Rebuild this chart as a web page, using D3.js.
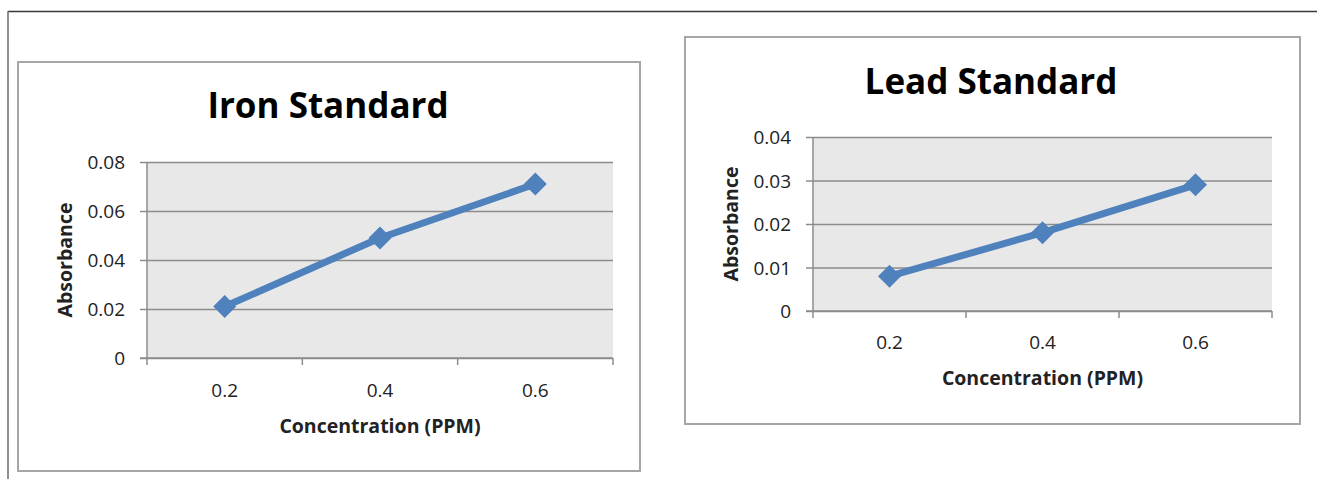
<!DOCTYPE html>
<html><head><meta charset="utf-8">
<script src="https://cdn.jsdelivr.net/npm/d3@7"></script>
<style>
html,body{margin:0;padding:0;background:#fff;}
svg{display:block;}
text{font-family:"Open Sans",Lato,sans-serif;}
</style></head>
<body>
<svg id="c" width="1317" height="479"></svg>
<script>
// Data
const categories = ["0.2", "0.4", "0.6"];
const ironValues = [0.021, 0.049, 0.071];
const leadValues = [0.008, 0.018, 0.029];
const ironTicks = [0, 0.02, 0.04, 0.06, 0.08];
const leadTicks = [0, 0.01, 0.02, 0.03, 0.04];
const charts = [
  {title: "Iron Standard", values: ironValues, ticks: ironTicks, max: 0.08, fmt: d => d === 0 ? "0" : d.toFixed(2),
   box: {x: 18, y: 62, w: 622, h: 409}, plot: {x: 147, y: 162, w: 466, h: 196},
   titleX: 328, titleY: 118, xLabY: 397, xTitleY: 433, yTitleX: 72, yLabX: 125},
  {title: "Lead Standard", values: leadValues, ticks: leadTicks, max: 0.04, fmt: d => d === 0 ? "0" : d.toFixed(2),
   box: {x: 685, y: 37, w: 615, h: 387}, plot: {x: 813, y: 137, w: 459, h: 174},
   titleX: 991, titleY: 94, xLabY: 349, xTitleY: 385, yTitleX: 738, yLabX: 791}
];
const xTitle = "Concentration (PPM)";
const yTitle = "Absorbance";

const svg = d3.select("#c");
// outer frame
svg.append("line").attr("x1", 8).attr("x2", 1317).attr("y1", 11.5).attr("y2", 11.5).attr("stroke", "#3a3a3a").attr("stroke-width", 1.5);
svg.append("line").attr("x1", 8).attr("x2", 8).attr("y1", 11).attr("y2", 479).attr("stroke", "#6a6a6a").attr("stroke-width", 1.5);

charts.forEach(c => {
  const g = svg.append("g");
  g.append("rect").attr("x", c.box.x).attr("y", c.box.y).attr("width", c.box.w).attr("height", c.box.h)
    .attr("fill", "#fff").attr("stroke", "#a6a6a6").attr("stroke-width", 2);
  g.append("text").attr("x", c.titleX).attr("y", c.titleY).attr("text-anchor", "middle")
    .attr("font-size", 35).attr("font-weight", "bold").attr("fill", "#000").text(c.title);

  const x = d3.scaleBand().domain(categories).range([c.plot.x, c.plot.x + c.plot.w]);
  const y = d3.scaleLinear().domain([0, c.max]).range([c.plot.y + c.plot.h, c.plot.y]);

  g.append("rect").attr("x", c.plot.x).attr("y", c.plot.y).attr("width", c.plot.w).attr("height", c.plot.h).attr("fill", "#e8e8e8");

  // gridlines + y axis
  const ya = g.append("g").attr("transform", `translate(${c.plot.x},0)`)
    .call(d3.axisLeft(y).tickValues(c.ticks).tickFormat(c.fmt).tickSize(-c.plot.w).tickPadding(0));
  ya.select(".domain").remove();
  ya.selectAll(".tick line").attr("stroke", "#8c8c8c").attr("stroke-width", 1.5);
  ya.selectAll(".tick").append("line").attr("x1", -7).attr("x2", 0).attr("stroke", "#8c8c8c").attr("stroke-width", 1.5);
  ya.selectAll(".tick text").attr("x", c.yLabX - c.plot.x).attr("font-size", 19).attr("fill", "#222")
    .attr("font-family", "'Open Sans', sans-serif").attr("dy", "0.36em");
  g.append("line").attr("x1", c.plot.x).attr("x2", c.plot.x).attr("y1", c.plot.y).attr("y2", c.plot.y + c.plot.h)
    .attr("stroke", "#8c8c8c").attr("stroke-width", 1.5);

  // x axis
  const bounds = categories.map(d => x(d)).concat([c.plot.x + c.plot.w]);
  const base = c.plot.y + c.plot.h;
  g.append("line").attr("x1", c.plot.x - 7).attr("x2", c.plot.x + c.plot.w).attr("y1", base).attr("y2", base)
    .attr("stroke", "#8c8c8c").attr("stroke-width", 1.5);
  g.selectAll(".xt").data(bounds).enter().append("line")
    .attr("x1", d => d).attr("x2", d => d).attr("y1", base).attr("y2", base + 7)
    .attr("stroke", "#8c8c8c").attr("stroke-width", 1.5);
  g.selectAll(".xl").data(categories).enter().append("text")
    .attr("x", d => x(d) + x.bandwidth() / 2).attr("y", c.xLabY).attr("text-anchor", "middle")
    .attr("font-size", 19).attr("fill", "#222").text(d => d);

  g.append("text").attr("x", c.plot.x + c.plot.w / 2).attr("y", c.xTitleY).attr("text-anchor", "middle")
    .attr("font-size", 19.5).attr("font-weight", "bold").attr("fill", "#222").text(xTitle);
  g.append("text").attr("transform", `translate(${c.yTitleX},${c.plot.y + c.plot.h / 2}) rotate(-90)`)
    .attr("text-anchor", "middle").attr("font-size", 19.5).attr("font-weight", "bold").attr("fill", "#222").text(yTitle);

  const pts = categories.map((d, i) => [x(d) + x.bandwidth() / 2, y(c.values[i])]);
  g.append("path").attr("d", d3.line()(pts)).attr("fill", "none").attr("stroke", "#4f81bd")
    .attr("stroke-width", 7).attr("stroke-linejoin", "round");
  g.selectAll(".m").data(pts).enter().append("path")
    .attr("transform", d => `translate(${d[0]},${d[1]})`)
    .attr("d", "M0,-11.5L11.5,0L0,11.5L-11.5,0Z").attr("fill", "#4f81bd");
});
</script>
</body></html>
